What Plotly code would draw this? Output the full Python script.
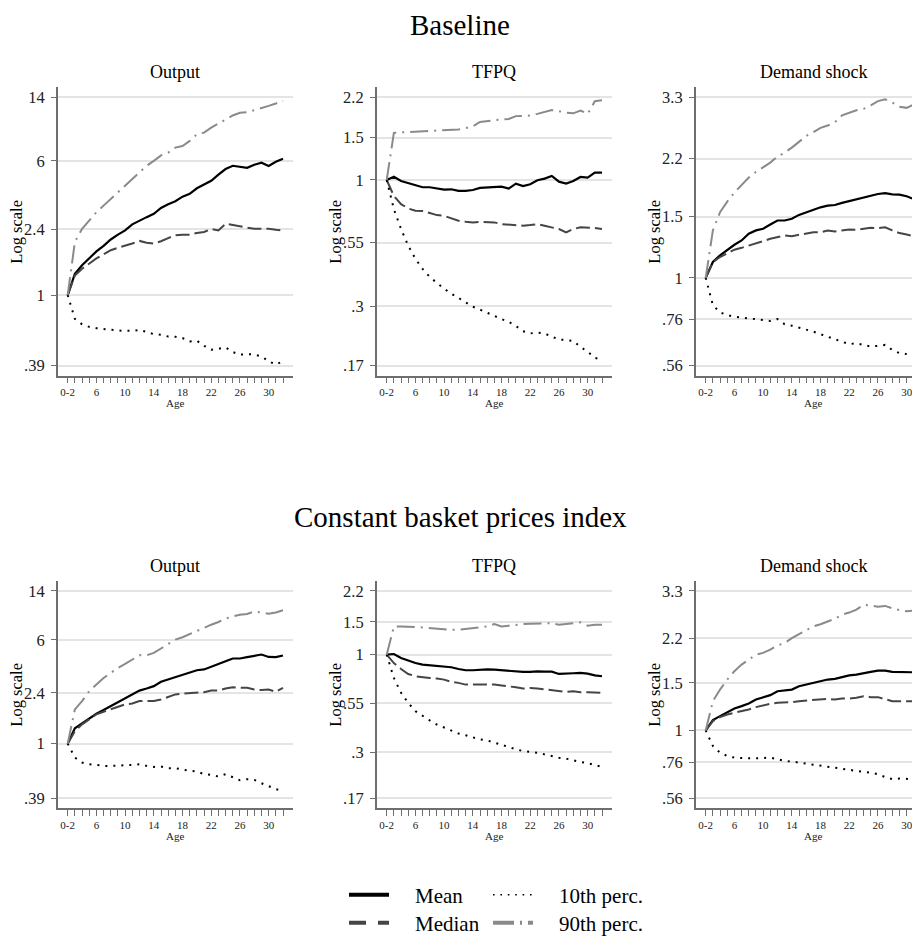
import math
import plotly.graph_objects as go

# ---------------- data ----------------
age = list(range(2, 33))
age_tick_text = ["0-2", "", "", "", "6", "", "", "", "10", "", "", "", "14", "", "", "",
                 "18", "", "", "", "22", "", "", "", "26", "", "", "", "30", "", ""]

row_titles = ["Baseline", "Constant basket prices index"]
col_titles = ["Output", "TFPQ", "Demand shock"]
series_names = ["Mean", "Median", "10th perc.", "90th perc."]

y_ticks_output = [0.39, 1, 2.4, 6, 14]
y_text_output = [".39", "1", "2.4", "6", "14"]
y_ticks_tfpq = [0.17, 0.3, 0.55, 1, 1.5, 2.2]
y_text_tfpq = [".17", ".3", ".55", "1", "1.5", "2.2"]
y_ticks_demand = [0.56, 0.76, 1, 1.5, 2.2, 3.3]
y_text_demand = [".56", ".76", "1", "1.5", "2.2", "3.3"]

# Baseline
base_output_mean = [1, 1.33, 1.49, 1.64, 1.79, 1.93, 2.10, 2.24, 2.37, 2.57, 2.71, 2.83, 2.96, 3.20, 3.36, 3.50,
                    3.72, 3.86, 4.16, 4.37, 4.60, 4.99, 5.38, 5.62, 5.55, 5.47, 5.70, 5.85, 5.60, 5.93, 6.17]
base_output_median = [1, 1.30, 1.42, 1.52, 1.63, 1.72, 1.82, 1.88, 1.93, 1.99, 2.06, 2.01, 1.99, 2.05, 2.14, 2.22,
                      2.24, 2.24, 2.29, 2.32, 2.42, 2.37, 2.59, 2.55, 2.50, 2.46, 2.42, 2.42, 2.42, 2.39, 2.37]
base_output_p10 = [1, 0.727, 0.677, 0.654, 0.642, 0.634, 0.628, 0.623, 0.62, 0.62, 0.628, 0.61, 0.593, 0.588, 0.575,
                   0.573, 0.563, 0.538, 0.543, 0.508, 0.482, 0.488, 0.497, 0.467, 0.451, 0.455, 0.451, 0.441, 0.413,
                   0.395, 0.413]
base_output_p90 = [1, 2.03, 2.42, 2.71, 3.02, 3.30, 3.61, 3.94, 4.31, 4.71, 5.14, 5.62, 6.00, 6.46, 6.70, 7.16,
                   7.32, 7.83, 8.56, 8.75, 9.35, 9.90, 10.4, 11.0, 11.4, 11.5, 11.8, 12.2, 12.5, 12.9, 13.4]

base_tfpq_mean = [1, 1.032, 0.99, 0.969, 0.95, 0.933, 0.933, 0.924, 0.912, 0.915, 0.901, 0.901, 0.909, 0.927, 0.933,
                  0.933, 0.939, 0.921, 0.966, 0.944, 0.96, 0.997, 1.013, 1.039, 0.984, 0.966, 0.99, 1.029, 1.022,
                  1.072, 1.072]
base_tfpq_median = [1, 0.859, 0.794, 0.762, 0.745, 0.743, 0.729, 0.715, 0.71, 0.693, 0.678, 0.671, 0.667, 0.671,
                    0.671, 0.667, 0.656, 0.652, 0.65, 0.646, 0.65, 0.656, 0.646, 0.636, 0.626, 0.606, 0.626, 0.636,
                    0.636, 0.632, 0.626]
base_tfpq_p10 = [1, 0.757, 0.626, 0.534, 0.471, 0.428, 0.396, 0.374, 0.354, 0.338, 0.324, 0.31, 0.298, 0.29, 0.281,
                 0.273, 0.265, 0.258, 0.248, 0.236, 0.231, 0.233, 0.231, 0.224, 0.218, 0.217, 0.215, 0.203, 0.194,
                 0.183, 0.18]
base_tfpq_p90 = [1, 1.568, 1.575, 1.58, 1.585, 1.59, 1.60, 1.605, 1.61, 1.615, 1.62, 1.64, 1.67, 1.74, 1.76, 1.77,
                 1.78, 1.79, 1.84, 1.85, 1.85, 1.88, 1.92, 1.95, 1.93, 1.90, 1.89, 1.94, 1.88, 2.12, 2.14]

base_demand_mean = [1, 1.111, 1.161, 1.205, 1.245, 1.281, 1.339, 1.369, 1.384, 1.424, 1.462, 1.462, 1.478, 1.517,
                    1.544, 1.571, 1.595, 1.613, 1.62, 1.642, 1.663, 1.678, 1.70, 1.722, 1.742, 1.753, 1.738, 1.735,
                    1.716, 1.685, 1.735]
base_demand_median = [1, 1.11, 1.148, 1.174, 1.205, 1.22, 1.24, 1.262, 1.276, 1.295, 1.31, 1.324, 1.318, 1.33,
                      1.345, 1.353, 1.353, 1.369, 1.36, 1.369, 1.378, 1.374, 1.384, 1.393, 1.39, 1.398, 1.369, 1.345,
                      1.333, 1.318, 1.333]
base_demand_p10 = [1, 0.835, 0.796, 0.782, 0.774, 0.769, 0.765, 0.76, 0.757, 0.752, 0.762, 0.736, 0.729, 0.72, 0.709,
                   0.701, 0.689, 0.677, 0.668, 0.656, 0.645, 0.649, 0.642, 0.635, 0.638, 0.642, 0.621, 0.608, 0.604,
                   0.595, 0.582]
base_demand_p90 = [1, 1.369, 1.544, 1.656, 1.759, 1.848, 1.943, 2.016, 2.074, 2.144, 2.231, 2.29, 2.367, 2.457,
                   2.556, 2.624, 2.699, 2.74, 2.80, 2.93, 2.98, 3.03, 3.06, 3.13, 3.22, 3.26, 3.19, 3.10, 3.08, 3.15,
                   3.29]

# Constant basket prices index
cb_output_mean = [1, 1.302, 1.419, 1.546, 1.676, 1.785, 1.913, 2.05, 2.17, 2.34, 2.50, 2.59, 2.70, 2.91, 3.03,
                  3.15, 3.30, 3.43, 3.55, 3.60, 3.76, 3.92, 4.15, 4.35, 4.35, 4.45, 4.58, 4.66, 4.47, 4.45, 4.58]
cb_output_median = [1, 1.24, 1.395, 1.52, 1.66, 1.735, 1.805, 1.89, 1.97, 2.0, 2.085, 2.085, 2.085, 2.145, 2.23,
                    2.34, 2.37, 2.38, 2.39, 2.43, 2.5, 2.5, 2.59, 2.65, 2.62, 2.62, 2.55, 2.52, 2.55, 2.45, 2.62]
cb_output_p10 = [1, 0.786, 0.721, 0.70, 0.693, 0.681, 0.681, 0.681, 0.689, 0.693, 0.70, 0.681, 0.669, 0.673, 0.654,
                 0.654, 0.636, 0.625, 0.618, 0.59, 0.583, 0.567, 0.59, 0.557, 0.532, 0.541, 0.535, 0.505, 0.483,
                 0.456, 0.443]
cb_output_p90 = [1, 1.805, 2.085, 2.477, 2.78, 3.11, 3.39, 3.70, 3.96, 4.27, 4.60, 4.60, 4.79, 5.17, 5.60, 6.03,
                 6.28, 6.64, 7.03, 7.36, 7.80, 8.17, 8.66, 9.0, 9.27, 9.38, 9.8, 9.63, 9.43, 9.63, 10.0]

cb_tfpq_mean = [1, 1.008, 0.96, 0.929, 0.902, 0.884, 0.877, 0.866, 0.859, 0.856, 0.838, 0.825, 0.825, 0.831, 0.835,
                0.831, 0.825, 0.814, 0.814, 0.808, 0.808, 0.814, 0.811, 0.811, 0.788, 0.788, 0.795, 0.798, 0.791,
                0.775, 0.766]
cb_tfpq_median = [1, 0.902, 0.838, 0.788, 0.766, 0.756, 0.75, 0.744, 0.735, 0.714, 0.706, 0.691, 0.691, 0.697,
                  0.691, 0.691, 0.683, 0.677, 0.669, 0.658, 0.663, 0.658, 0.65, 0.642, 0.637, 0.632, 0.637, 0.629,
                  0.629, 0.624, 0.624]
cb_tfpq_p10 = [1, 0.75, 0.624, 0.551, 0.498, 0.468, 0.444, 0.422, 0.406, 0.392, 0.378, 0.37, 0.359, 0.351, 0.347,
               0.337, 0.33, 0.32, 0.311, 0.304, 0.302, 0.298, 0.292, 0.286, 0.28, 0.277, 0.271, 0.266, 0.262, 0.256,
               0.25]
cb_tfpq_p90 = [1, 1.417, 1.417, 1.417, 1.405, 1.40, 1.389, 1.377, 1.377, 1.36, 1.36, 1.377, 1.389, 1.405, 1.417,
               1.46, 1.417, 1.43, 1.447, 1.46, 1.465, 1.465, 1.47, 1.477, 1.447, 1.46, 1.47, 1.49, 1.43, 1.447, 1.447]

cb_demand_mean = [1, 1.092, 1.13, 1.169, 1.206, 1.231, 1.259, 1.302, 1.329, 1.352, 1.398, 1.406, 1.418, 1.459,
                  1.48, 1.502, 1.523, 1.545, 1.554, 1.581, 1.60, 1.612, 1.635, 1.649, 1.668, 1.668, 1.649, 1.649,
                  1.654, 1.644, 1.66]
cb_demand_median = [1, 1.083, 1.12, 1.146, 1.163, 1.179, 1.196, 1.22, 1.238, 1.255, 1.266, 1.266, 1.273, 1.284,
                    1.291, 1.291, 1.302, 1.31, 1.302, 1.314, 1.314, 1.321, 1.34, 1.329, 1.329, 1.302, 1.284, 1.284,
                    1.284, 1.284, 1.284]
cb_demand_p10 = [1, 0.875, 0.826, 0.804, 0.792, 0.788, 0.788, 0.788, 0.788, 0.792, 0.781, 0.77, 0.766, 0.759, 0.753,
                 0.744, 0.738, 0.732, 0.727, 0.721, 0.713, 0.707, 0.701, 0.697, 0.687, 0.671, 0.659, 0.662, 0.659,
                 0.659, 0.659]
cb_demand_p90 = [1, 1.284, 1.418, 1.545, 1.659, 1.756, 1.832, 1.912, 1.94, 1.995, 2.07, 2.11, 2.20, 2.28, 2.36,
                 2.435, 2.48, 2.54, 2.60, 2.69, 2.74, 2.81, 2.93, 2.91, 2.88, 2.90, 2.84, 2.80, 2.77, 2.79, 2.89]

panels = [
    [[base_output_mean, base_output_median, base_output_p10, base_output_p90],
     [base_tfpq_mean, base_tfpq_median, base_tfpq_p10, base_tfpq_p90],
     [base_demand_mean, base_demand_median, base_demand_p10, base_demand_p90]],
    [[cb_output_mean, cb_output_median, cb_output_p10, cb_output_p90],
     [cb_tfpq_mean, cb_tfpq_median, cb_tfpq_p10, cb_tfpq_p90],
     [cb_demand_mean, cb_demand_median, cb_demand_p10, cb_demand_p90]],
]
col_ticks = [(y_ticks_output, y_text_output), (y_ticks_tfpq, y_text_tfpq), (y_ticks_demand, y_text_demand)]

# ---------------- layout / style ----------------
# page body has an 8px margin; design in window coordinates and convert
OFF = 8
WIN_W, WIN_H = 920, 944
W, H = WIN_W - OFF, WIN_H - OFF
SERIF = "Liberation Serif"
AXIS_COLOR = "#6e6e6e"
GRID_COLOR = "#e4e4e4"

styles = [
    dict(color="black", width=2.2, dash="solid"),
    dict(color="#454545", width=2.0, dash="14px,5px"),
    dict(color="black", width=2.0, dash="2px,6px"),
    dict(color="#8a8a8a", width=2.0, dash="18px,6px,2px,6px"),
]
legend_styles = [
    dict(color="black", width=4, dash="solid"),
    dict(color="#454545", width=4, dash="17px,12px"),
    dict(color="black", width=1.6, dash="1.6px,5.8px"),
    dict(color="#8a8a8a", width=4, dash="21px,6px,2px,6px"),
]

col_px = [(57.7, 293.0), (376.7, 612.0), (695.7, 930.7)]
first_tick_off = 10.0
ppu = (293.0 - 57.7 - 2 * first_tick_off) / 30.0
row_px = [(87.7, 376.7), (582.7, 810.7)]
tick_pad = 10.0

fig = go.Figure()
annotations = []


def px_x(v):
    return (v - OFF) / W


def px_y(v):
    return 1 - (v - OFF) / H


idx = 0
for r in range(2):
    top, bot = row_px[r]
    for c in range(3):
        idx += 1
        xa = "x" if idx == 1 else f"x{idx}"
        ya = "y" if idx == 1 else f"y{idx}"
        left, right = col_px[c]
        right_vis = min(right, WIN_W)
        x0 = age[0] - first_tick_off / ppu
        x1 = x0 + (right_vis - left) / ppu

        tv, tt = col_ticks[c]
        lo, hi = math.log10(min(tv)), math.log10(max(tv))
        span_px = (bot - top) - 2 * tick_pad
        ppd = span_px / (hi - lo)
        yr = [lo - tick_pad / ppd, hi + tick_pad / ppd]

        for s in range(4):
            fig.add_trace(go.Scatter(
                x=age, y=panels[r][c][s], mode="lines", name=series_names[s],
                line=styles[s], showlegend=False, xaxis=xa, yaxis=ya,
                hoverinfo="skip"))

        fig.layout[f"xaxis{'' if idx == 1 else idx}"] = dict(
            domain=[px_x(left), min(1.0, px_x(right_vis))], range=[x0, x1], anchor=ya,
            tickmode="array", tickvals=age, ticktext=age_tick_text,
            ticks="outside", ticklen=6, tickwidth=1.2, tickcolor=AXIS_COLOR,
            showline=True, linecolor=AXIS_COLOR, linewidth=1.5,
            showgrid=False, zeroline=False,
            tickfont=dict(family=SERIF, size=11, color="#222"),
        )
        fig.layout[f"yaxis{'' if idx == 1 else idx}"] = dict(
            domain=[px_y(bot), px_y(top)], type="log", range=yr, anchor=xa,
            tickmode="array", tickvals=tv, ticktext=tt,
            ticks="outside", ticklen=5, tickwidth=1.2, tickcolor=AXIS_COLOR,
            showline=True, linecolor=AXIS_COLOR, linewidth=1.5,
            showgrid=True, gridcolor=GRID_COLOR, gridwidth=1.5, zeroline=False,
            ticklabelstandoff=3,
            tickfont=dict(family=SERIF, size=16.5, color="#222"),
        )

        cx = (left + right) / 2
        annotations.append(dict(text=col_titles[c], x=px_x(cx), y=px_y(top - 15), xref="paper", yref="paper",
                                xanchor="center", yanchor="middle", showarrow=False,
                                font=dict(family=SERIF, size=18, color="black")))
        annotations.append(dict(text="Log scale", x=px_x(left - 41.5), y=px_y((top + bot) / 2), xref="paper",
                                yref="paper", xanchor="center", yanchor="middle", textangle=-90, showarrow=False,
                                font=dict(family=SERIF, size=16.5, color="black")))
        annotations.append(dict(text="Age", x=px_x(cx), y=px_y(bot + 28), xref="paper", yref="paper",
                                xanchor="center", yanchor="middle", showarrow=False,
                                font=dict(family=SERIF, size=11, color="#222")))

annotations.append(dict(text=row_titles[0], x=px_x(460), y=px_y(25), xref="paper", yref="paper",
                        xanchor="center", yanchor="middle", showarrow=False,
                        font=dict(family=SERIF, size=29, color="black")))
annotations.append(dict(text=row_titles[1], x=px_x(460), y=px_y(519), xref="paper", yref="paper",
                        xanchor="center", yanchor="middle", showarrow=False,
                        font=dict(family=SERIF, size=29, color="black")))

# legend entries (two rows: Mean / 10th perc., Median / 90th perc.)
legend_rows = [[0, 2], [1, 3]]
for li, row in enumerate(legend_rows):
    for k, s in enumerate(row):
        fig.add_trace(go.Scatter(
            x=[None], y=[None], mode="lines", name="\u00a0\u00a0\u00a0\u00a0" + series_names[s],
            line=legend_styles[s], showlegend=True, legend="legend" if li == 0 else "legend2",
            legendwidth=89 if k == 0 else 140,
            xaxis="x", yaxis="y"))

leg_common = dict(orientation="h", xanchor="left", yanchor="middle", itemwidth=40,
                  entrywidth=89, entrywidthmode="pixels", bgcolor="rgba(0,0,0,0)", borderwidth=0,
                  font=dict(family=SERIF, size=21, color="black"), itemclick=False, itemdoubleclick=False)

fig.update_layout(
    width=W, height=H, margin=dict(l=0, r=0, t=0, b=0),
    paper_bgcolor="white", plot_bgcolor="white",
    annotations=annotations,
    legend=dict(x=px_x(344), y=px_y(898), **leg_common),
    legend2=dict(x=px_x(344), y=px_y(926), **leg_common),
    font=dict(family=SERIF),
)

fig.write_html("out.html")
